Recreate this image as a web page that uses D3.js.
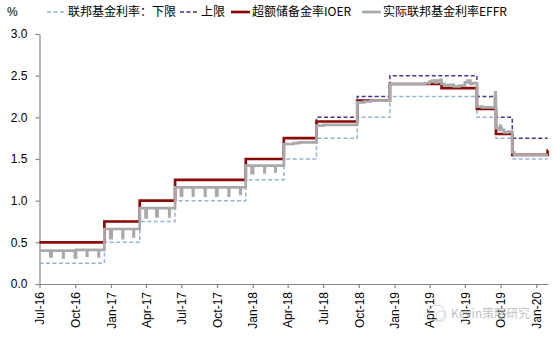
<!DOCTYPE html>
<html><head><meta charset="utf-8">
<script src="https://cdn.jsdelivr.net/npm/d3@7"></script>
<style>
body{margin:0;background:#fff}
text{font-family:"Liberation Sans",Arial,sans-serif}
</style></head>
<body><svg id="c" width="554" height="338"></svg>
<script>
// ---------------- data ----------------
const seriesNames = ["联邦基金利率：下限", "上限", "超额储备金率IOER", "实际联邦基金利率EFFR"];

const lowerDates  = ["2016-07-01","2016-12-15","2017-03-16","2017-06-15","2017-12-14","2018-03-22","2018-06-14","2018-09-27","2018-12-20","2019-08-01","2019-09-19","2019-10-31","2020-01-30"];
const lowerValues = [0.25,0.50,0.75,1.00,1.25,1.50,1.75,2.00,2.25,2.00,1.75,1.50,1.50];

const upperDates  = ["2016-07-01","2016-12-15","2017-03-16","2017-06-15","2017-12-14","2018-03-22","2018-06-14","2018-09-27","2018-12-20","2019-08-01","2019-09-19","2019-10-31","2020-01-30"];
const upperValues = [0.50,0.75,1.00,1.25,1.50,1.75,2.00,2.25,2.50,2.25,2.00,1.75,1.75];

const ioerDates  = ["2016-07-01","2016-12-15","2017-03-16","2017-06-15","2017-12-14","2018-03-22","2018-06-14","2018-09-27","2018-12-20","2019-05-02","2019-08-01","2019-09-19","2019-10-31","2020-01-30","2020-01-31"];
const ioerValues = [0.50,0.75,1.00,1.25,1.50,1.75,1.95,2.20,2.40,2.35,2.10,1.80,1.55,1.60,1.60];

const effrDates = [
 "2016-07-01","2016-07-29","2016-08-01","2016-08-31","2016-09-01","2016-09-30","2016-10-03","2016-10-31","2016-11-01","2016-11-30","2016-12-01",
 "2016-12-15","2016-12-30","2017-01-03","2017-01-31","2017-02-01","2017-02-28","2017-03-01",
 "2017-03-16","2017-03-31","2017-04-03","2017-04-28","2017-05-01","2017-05-31","2017-06-01",
 "2017-06-15","2017-06-30","2017-07-03","2017-07-31","2017-08-01","2017-08-31","2017-09-01","2017-09-29","2017-10-02","2017-10-31","2017-11-01","2017-11-30","2017-12-01",
 "2017-12-14","2017-12-29","2018-01-02","2018-01-31","2018-02-01","2018-02-28","2018-03-01",
 "2018-03-22","2018-04-16","2018-05-01",
 "2018-06-14","2018-07-02",
 "2018-09-27","2018-10-15","2018-11-01",
 "2018-12-20","2019-03-20","2019-04-01","2019-04-08","2019-04-15","2019-04-22","2019-04-29",
 "2019-05-02","2019-05-10","2019-05-20","2019-06-03","2019-06-17","2019-07-01","2019-07-08","2019-07-15","2019-07-22",
 "2019-08-01","2019-08-15","2019-09-16","2019-09-17","2019-09-18",
 "2019-09-19","2019-09-20","2019-09-25","2019-09-30","2019-10-01","2019-10-03","2019-10-10","2019-10-21",
 "2019-10-31","2019-11-05","2019-12-31","2020-01-02","2020-01-31"];
const effrValues = [
 0.40,0.33,0.40,0.32,0.40,0.32,0.41,0.34,0.41,0.33,0.41,
 0.66,0.55,0.66,0.55,0.66,0.57,0.66,
 0.91,0.80,0.91,0.81,0.91,0.81,0.91,
 1.16,1.06,1.16,1.06,1.16,1.06,1.16,1.06,1.16,1.06,1.16,1.08,1.16,
 1.42,1.33,1.42,1.34,1.42,1.35,1.42,
 1.68,1.69,1.70,
 1.90,1.91,
 2.18,2.19,2.20,
 2.40,2.41,2.43,2.44,2.42,2.44,2.45,
 2.40,2.38,2.39,2.37,2.38,2.42,2.44,2.40,2.41,
 2.13,2.12,2.25,2.30,2.25,
 1.90,1.87,1.85,1.90,1.88,1.85,1.82,1.83,
 1.58,1.55,1.55,1.55,1.55];

const yTicks = [0,0.5,1.0,1.5,2.0,2.5,3.0];
const xTickLabels = ["Jul-16","Oct-16","Jan-17","Apr-17","Jul-17","Oct-17","Jan-18","Apr-18","Jul-18","Oct-18","Jan-19","Apr-19","Jul-19","Oct-19","Jan-20"];

// ---------------- chart ----------------
const parse = d3.timeParse("%Y-%m-%d");
const fmtTick = d3.timeFormat("%b-%y");
const parseTick = d3.timeParse("%b-%y");
const svg = d3.select("#c");

const x = d3.scaleTime().domain([parse("2016-07-01"), parse("2020-01-31")]).range([39.5, 548]);
const y = d3.scaleLinear().domain([0, 3]).range([284, 34]);

const zip = (ds, vs) => ds.map((d, i) => ({date: parse(d), v: vs[i]}));
const line = d3.line().x(d => x(d.date)).y(d => y(d.v)).curve(d3.curveStepAfter);

// axes
const yAx = svg.append("g").attr("transform", "translate(39.5,0)")
  .call(d3.axisLeft(y).tickValues(yTicks).tickFormat(d3.format(".1f")).tickSize(4).tickSizeOuter(0).tickPadding(8));
const xAx = svg.append("g").attr("transform", "translate(0,284)")
  .call(d3.axisBottom(x).tickValues(xTickLabels.map(parseTick)).tickFormat(fmtTick).tickSize(4).tickSizeOuter(0));
[yAx, xAx].forEach(g => {
  g.selectAll(".domain, .tick line").attr("stroke", "#868686").attr("stroke-width", 1.2);
  g.selectAll("text").attr("fill", "#000").style("font-size", "12px");
});
xAx.selectAll("text")
  .attr("y", 0).attr("x", -8).attr("dy", "0.35em")
  .attr("transform", "rotate(-90)").style("text-anchor", "end");

// series
const styles = [
  {stroke: "#95B3D7", width: 1.5, dash: "4,2.5"},
  {stroke: "#3A3A95", width: 1.5, dash: "4,2.5"},
  {stroke: "#8B0A0A", width: 2.7, dash: null},
  {stroke: "#A9A9A9", width: 2.7, dash: null}
];
const series = [zip(lowerDates, lowerValues), zip(upperDates, upperValues), zip(ioerDates, ioerValues), zip(effrDates, effrValues)];
series.forEach((s, i) => {
  svg.append("path").datum(s).attr("d", line).attr("fill", "none")
    .attr("stroke", styles[i].stroke).attr("stroke-width", styles[i].width)
    .attr("stroke-dasharray", styles[i].dash);
});

// unit label
svg.append("text").attr("x", 7).attr("y", 16).text("%").style("font-size", "12px");

// legend
const lg = svg.append("g").attr("transform", "translate(0,12)");
const legX = [47, 180, 231, 362];
seriesNames.forEach((n, i) => {
  const g = lg.append("g").attr("transform", `translate(${legX[i]},0)`);
  g.append("line").attr("x1", 0).attr("x2", 19).attr("y1", 0).attr("y2", 0)
    .attr("stroke", styles[i].stroke).attr("stroke-width", i >= 2 ? 2.7 : 1.5)
    .attr("stroke-dasharray", styles[i].dash);
  g.append("text").attr("x", 21).attr("y", 0).attr("dy", "0.36em").text(n)
    .style("font-family", "'Noto Sans CJK SC','Liberation Sans',sans-serif").style("font-size", "12px");
});

// watermark
const wm = svg.append("g").attr("opacity", 0.6);
wm.append("circle").attr("cx", 437).attr("cy", 313).attr("r", 8).attr("fill", "none").attr("stroke", "#bbb");
wm.append("circle").attr("cx", 441).attr("cy", 316).attr("r", 5).attr("fill", "none").attr("stroke", "#bbb");
wm.append("text").attr("x", 451).attr("y", 318).text("Kevin策略研究")
  .style("font-family", "'Noto Sans CJK SC',sans-serif").style("font-size", "12px")
  .attr("fill", "#999").attr("stroke", "#fff").attr("stroke-width", 0.6).attr("paint-order", "stroke");
</script>
</body></html>
